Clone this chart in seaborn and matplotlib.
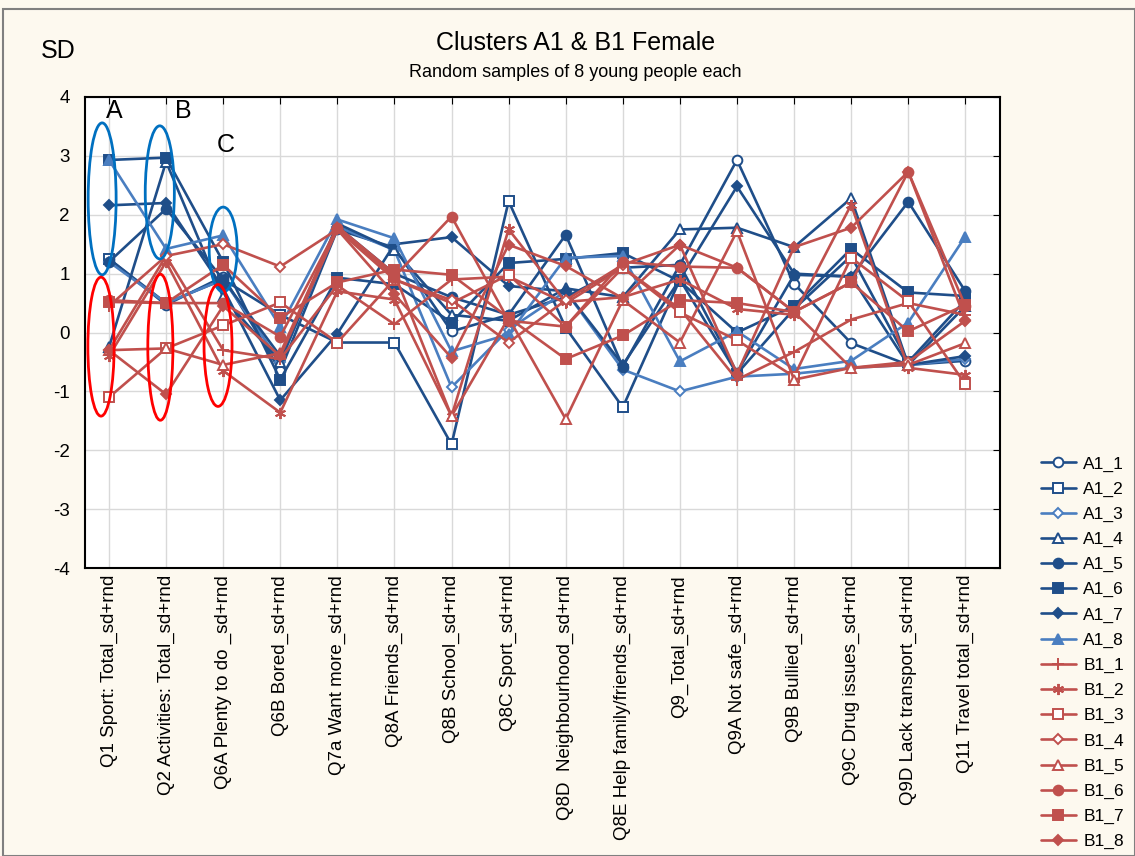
import numpy as np
import pandas as pd
import matplotlib
matplotlib.use("Agg")
import matplotlib.pyplot as plt
from matplotlib.patches import Ellipse, Rectangle
import seaborn as sns

categories = [
    "Q1 Sport: Total_sd+rnd", "Q2 Activities: Total_sd+rnd", "Q6A Plenty to do _sd+rnd",
    "Q6B Bored_sd+rnd", "Q7a Want more_sd+rnd", "Q8A Friends_sd+rnd", "Q8B School_sd+rnd",
    "Q8C Sport_sd+rnd", "Q8D  Neighbourhood_sd+rnd", "Q8E Help family/friends_sd+rnd",
    "Q9_Total_sd+rnd", "Q9A Not safe_sd+rnd", "Q9B Bullied_sd+rnd", "Q9C Drug issues_sd+rnd",
    "Q9D Lack transport_sd+rnd", "Q11 Travel total_sd+rnd",
]

# cluster A1 (blue)
A1_1 = [1.25, 0.47, 0.95, -0.65, 1.75, 1.44, 0.02, 0.30, 0.60, 1.10, 1.15, 2.93, 0.83, -0.18, -0.55, -0.48]
A1_2 = [1.25, 0.50, 0.90, 0.30, -0.17, -0.17, -1.90, 2.23, 0.08, -1.27, 0.90, -0.70, 0.40, 1.30, -0.50, 0.55]
A1_3 = [1.20, 0.50, 0.90, -0.50, 1.80, 1.40, -0.93, 0.05, 0.70, -0.63, -1.00, -0.75, -0.70, -0.60, -0.55, -0.45]
A1_4 = [-0.25, 2.90, 0.60, -0.50, 1.85, 1.40, 0.30, 0.20, 0.75, 0.60, 1.75, 1.78, 1.45, 2.28, -0.55, 0.45]
A1_5 = [1.20, 2.10, 0.90, -0.40, 1.80, 1.00, 0.60, 0.30, 1.66, -0.58, 1.15, -0.68, 0.98, 0.95, 2.22, 0.70]
A1_6 = [2.93, 2.97, 1.20, -0.80, 0.93, 0.82, 0.17, 1.18, 1.25, 1.35, 0.87, 0.00, 0.45, 1.42, 0.68, 0.62]
A1_7 = [2.16, 2.20, 0.75, -1.15, -0.02, 1.50, 1.62, 0.79, 0.70, -0.55, 0.90, 2.48, 1.00, 0.95, -0.55, -0.40]
A1_8 = [2.93, 1.42, 1.65, 0.10, 1.92, 1.60, -0.32, -0.03, 1.27, 1.30, -0.49, 0.02, -0.62, -0.48, 0.17, 1.63]

# cluster B1 (red)
B1_1 = [0.45, 1.30, -0.30, -0.45, 0.80, 0.14, 0.90, 0.95, 0.50, 1.10, 0.40, -0.80, -0.33, 0.22, 0.50, 0.30]
B1_2 = [-0.40, 1.20, -0.65, -1.36, 0.70, 0.56, -1.42, 1.75, 0.52, 0.60, 0.90, 0.40, 0.30, 2.17, -0.60, -0.72]
B1_3 = [-1.10, -0.27, 0.12, 0.51, -0.17, 0.90, 0.50, 0.98, 0.10, 1.10, 0.34, -0.13, -0.75, 1.27, 0.53, -0.88]
B1_4 = [-0.30, 1.30, 1.50, 1.12, 1.75, 0.90, 0.55, -0.17, 0.55, 1.15, 1.49, 1.10, 0.35, -0.60, -0.50, 0.20]
B1_5 = [-0.30, -0.27, -0.55, -0.35, 1.80, 1.00, -1.42, 0.25, -1.47, 0.55, -0.17, 1.72, -0.80, -0.60, -0.55, -0.18]
B1_6 = [0.55, 0.50, 0.50, -0.07, 1.78, 0.95, 1.97, 0.20, 0.10, 1.20, 1.12, 1.10, 0.35, 0.85, 2.73, 0.45]
B1_7 = [0.52, 0.50, 1.15, 0.25, 0.85, 1.07, 0.98, 0.25, -0.45, -0.05, 0.55, 0.50, 0.35, 0.85, 0.02, 0.47]
B1_8 = [-0.30, -1.05, 0.45, -0.40, 1.75, 0.65, -0.43, 1.49, 1.13, 0.58, 1.49, -0.70, 1.45, 1.78, 2.73, 0.22]

series = {
    "A1_1": A1_1, "A1_2": A1_2, "A1_3": A1_3, "A1_4": A1_4,
    "A1_5": A1_5, "A1_6": A1_6, "A1_7": A1_7, "A1_8": A1_8,
    "B1_1": B1_1, "B1_2": B1_2, "B1_3": B1_3, "B1_4": B1_4,
    "B1_5": B1_5, "B1_6": B1_6, "B1_7": B1_7, "B1_8": B1_8,
}

dark = "#1F4E89"
light = "#4A7EC0"
red = "#C0504D"
asterisk = (6, 2, 0)
# name: (colour, marker, open?, size)
styles = {
    "A1_1": (dark, "o", True, 7), "A1_2": (dark, "s", True, 7),
    "A1_3": (light, "D", True, 5.5), "A1_4": (dark, "^", True, 7),
    "A1_5": (dark, "o", False, 7), "A1_6": (dark, "s", False, 7),
    "A1_7": (dark, "D", False, 5), "A1_8": (light, "^", False, 7),
    "B1_1": (red, "+", False, 8), "B1_2": (red, asterisk, False, 8),
    "B1_3": (red, "s", True, 7), "B1_4": (red, "D", True, 5.5),
    "B1_5": (red, "^", True, 7), "B1_6": (red, "o", False, 7),
    "B1_7": (red, "s", False, 7), "B1_8": (red, "D", False, 5),
}

bg = "#FDF9EF"
sns.set_style("white")
plt.rcParams["font.family"] = ["Liberation Sans", "DejaVu Sans"]
plt.rcParams["axes.unicode_minus"] = False
plt.rcParams["text.color"] = "black"
plt.rcParams["xtick.color"] = "black"
plt.rcParams["ytick.color"] = "black"

fig = plt.figure(figsize=(11.35, 8.56), dpi=100, facecolor=bg)
ax = fig.add_axes([0.0749, 0.3364, 0.8063, 0.5503])
ax.set_facecolor("white")

pos = np.arange(len(categories))
for name, vals in series.items():
    col, mk, hollow, ms = styles[name]
    df = pd.DataFrame({"x": pos, "y": vals})
    sns.lineplot(data=df, x="x", y="y", ax=ax, color=col, marker=mk,
                 markersize=ms, markerfacecolor="white" if hollow else col,
                 markeredgecolor=col, markeredgewidth=1.4, linewidth=1.9,
                 label=name, legend=False)

ax.set_xlim(-0.42, 15.61)
ax.set_ylim(-4, 4)
ax.set_yticks(range(-4, 5))
ax.set_xticks(pos)
ax.set_xticklabels(categories, rotation=90, fontsize=13.5)
ax.tick_params(axis="y", labelsize=13.5, direction="in", right=True, length=5, pad=11)
ax.tick_params(axis="x", direction="in", top=True, length=5, pad=5)
ax.set_xlabel("")
ax.set_ylabel("")
ax.grid(True, color="#D9D9D9", linewidth=1)
ax.set_axisbelow(True)
for s in ax.spines.values():
    s.set_color("black")
    s.set_linewidth(1.5)

# group highlight ellipses
for cx, cy, w, h in [(-0.12, 2.27, 0.49, 2.58), (0.89, 2.38, 0.51, 2.26), (2.0, 1.41, 0.49, 1.44)]:
    ax.add_patch(Ellipse((cx, cy), w, h, fill=False, edgecolor="#0070C0", linewidth=2, zorder=5))
for cx, cy, w, h in [(-0.14, -0.24, 0.46, 2.36), (0.9, -0.25, 0.44, 2.48), (1.91, -0.22, 0.49, 2.07)]:
    ax.add_patch(Ellipse((cx, cy), w, h, fill=False, edgecolor="#FF0000", linewidth=2, zorder=5))

ax.text(0.1, 3.77, "A", fontsize=18, ha="center", va="center")
ax.text(1.3, 3.77, "B", fontsize=18, ha="center", va="center")
ax.text(2.05, 3.19, "C", fontsize=18, ha="center", va="center")

fig.text(0.507, 0.95, "Clusters A1 & B1 Female", fontsize=18, ha="center", va="center")
fig.text(0.507, 0.915, "Random samples of 8 young people each", fontsize=13, ha="center", va="center")
fig.text(0.051, 0.941, "SD", fontsize=18, ha="center", va="center")

handles, labels = ax.get_legend_handles_labels()
fig.legend(handles, labels, loc="upper left", bbox_to_anchor=(0.917, 0.467),
           frameon=False, fontsize=12.5, labelspacing=0.57, handlelength=2.0,
           handletextpad=0.45, borderaxespad=0, borderpad=0)

fig.add_artist(Rectangle((0.003, 0.0), 0.997, 0.99, transform=fig.transFigure,
                         fill=False, edgecolor="#808080", linewidth=1.5))

fig.savefig("out.png", dpi=100, facecolor=bg)
